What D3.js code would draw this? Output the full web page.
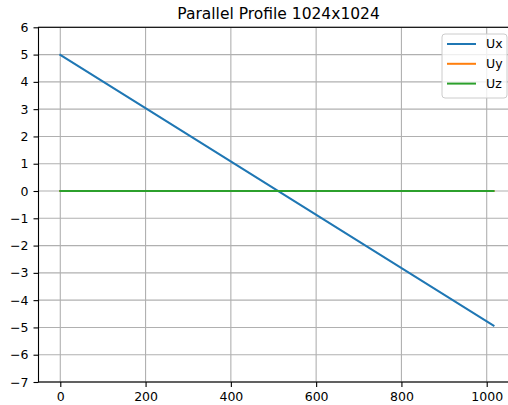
<!DOCTYPE html>
<html>
<head>
<meta charset="utf-8">
<script src="https://cdn.jsdelivr.net/npm/d3@7"></script>
<style>
  body { margin: 0; background: #fff; }
  svg { display: block; font-family: "DejaVu Sans", sans-serif; }
</style>
</head>
<body>
<svg id="chart"></svg>
<script>
// values
let xs = [0, 1016];
let ux = [4.99, -4.93];
let uy = [0, 0];
let uz = [0, 0];
let seriesNames = ["Ux", "Uy", "Uz"];
let seriesColors = ["#1f77b4", "#ff7f0e", "#2ca02c"];
let xTicks = [0, 200, 400, 600, 800, 1000];
let yTicks = [-7, -6, -5, -4, -3, -2, -1, 0, 1, 2, 3, 4, 5, 6];
let title = "Parallel Profile 1024x1024";

let w = 508;
let h = 405;
let pLeft = 38.5, pTop = 27.3, pRight = 518.6, pBottom = 382;

let svg = d3.select('#chart').attr('width', w).attr('height', h);

let x = d3.scaleLinear().domain([-51.1, 1074.8]).range([pLeft, pRight]);
let y = d3.scaleLinear().domain([-7, 6]).range([pBottom, pTop]);

// grid
let grid = svg.append('g');
grid.selectAll('.gx').data(xTicks).enter().append('line')
    .attr('x1', d => x(d)).attr('x2', d => x(d))
    .attr('y1', pTop).attr('y2', pBottom)
    .attr('stroke', '#b0b0b0').attr('stroke-width', 1.1);
grid.selectAll('.gy').data(yTicks).enter().append('line')
    .attr('x1', pLeft).attr('x2', pRight)
    .attr('y1', d => y(d)).attr('y2', d => y(d))
    .attr('stroke', '#b0b0b0').attr('stroke-width', 1.1);

// lines
let series = [ux, uy, uz];
let line = d3.line().x((d, i) => x(xs[i])).y(d => y(d));
series.forEach((s, k) => {
    svg.append('path')
        .datum(s)
        .attr('d', line)
        .attr('fill', 'none')
        .attr('stroke', seriesColors[k])
        .attr('stroke-width', 2)
        .attr('stroke-linecap', 'square');
});

// axes
let xAxis = d3.axisBottom(x).tickValues(xTicks).tickSize(5).tickPadding(5)
    .tickFormat(d3.format('d'));
let yAxis = d3.axisLeft(y).tickValues(yTicks).tickSize(5).tickPadding(5)
    .tickFormat(d => d < 0 ? '\u2212' + Math.abs(d) : d);

let gx = svg.append('g').attr('transform', `translate(0,${pBottom})`).call(xAxis);
let gy = svg.append('g').attr('transform', `translate(${pLeft},0)`).call(yAxis);
[gx, gy].forEach(g => {
    g.select('.domain').remove();
    g.selectAll('.tick line').attr('stroke', '#000').attr('stroke-width', 1.1);
    g.selectAll('.tick text').attr('fill', '#000').style('font-size', '12.5px')
        .style('font-family', '"DejaVu Sans", sans-serif');
});

// spines
svg.append('rect')
    .attr('x', pLeft).attr('y', pTop)
    .attr('width', pRight - pLeft).attr('height', pBottom - pTop)
    .attr('fill', 'none').attr('stroke', '#000').attr('stroke-width', 1.1);

// title
svg.append('text')
    .attr('x', (pLeft + pRight) / 2).attr('y', 18.5)
    .attr('text-anchor', 'middle')
    .style('font-size', '15.5px')
    .text(title);

// legend
let lg = svg.append('g');
lg.append('rect')
    .attr('x', 442).attr('y', 34).attr('width', 65).attr('height', 64)
    .attr('rx', 3)
    .attr('fill', '#fff').attr('fill-opacity', 0.8)
    .attr('stroke', '#cccccc').attr('stroke-width', 1);
seriesNames.forEach((n, i) => {
    let yy = 44 + i * 19.8;
    lg.append('line')
        .attr('x1', 447).attr('x2', 476)
        .attr('y1', yy).attr('y2', yy)
        .attr('stroke', seriesColors[i]).attr('stroke-width', 2);
    lg.append('text')
        .attr('x', 486).attr('y', yy)
        .attr('dy', '0.35em')
        .style('font-size', '12.5px')
        .text(n);
});
</script>
</body>
</html>
